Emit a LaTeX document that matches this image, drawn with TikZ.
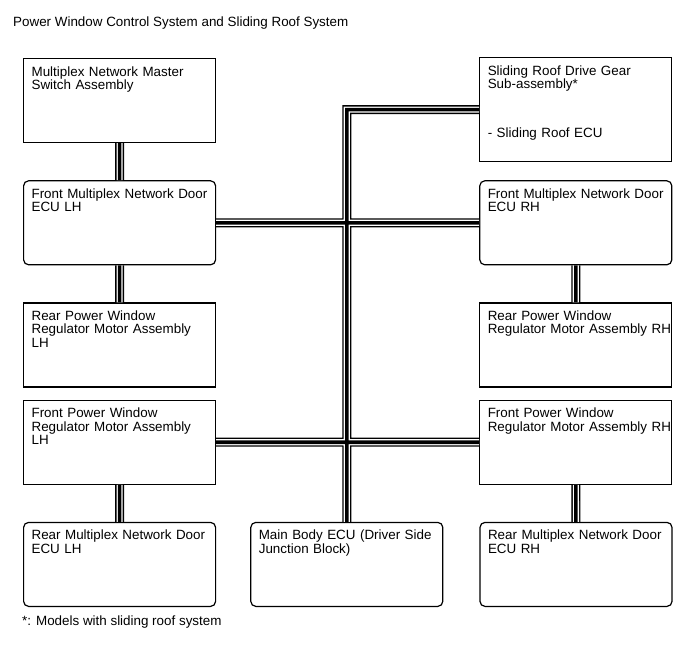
\documentclass[tikz,border=0pt]{standalone}
\usepackage{fontspec}
\setmainfont{Liberation Sans}
\usetikzlibrary{positioning}
\begin{document}
\begin{tikzpicture}[x=1pt, y=-1pt, font=\fontsize{13.4}{13.3}\selectfont]
  \tikzstyle{unit}=[draw, line width=1.2pt, text width=176pt, align=left, inner xsep=8pt, inner ysep=0pt, text height=17.5pt, text depth=66.5pt]
  \tikzstyle{ecu}=[unit, rounded corners=5pt]
  \tikzstyle{caption}=[anchor=base west, inner sep=0pt]
  \useasboundingbox (0,0) rectangle (689,659);

  \node[caption] (title) at (13,26) {Power Window Control System and Sliding Roof System};

  \node[unit, anchor=north west] (msw) at (23,58) {Multiplex Network Master\\Switch Assembly};
  \node[ecu, below=37pt of msw] (fdl) {Front Multiplex Network Door\\ECU LH};
  \node[unit, below=37pt of fdl] (rpl) {Rear Power Window\\Regulator Motor Assembly\\LH};
  \node[unit, below=12pt of rpl] (fpl) {Front Power Window\\Regulator Motor Assembly\\LH};
  \node[ecu, below=37pt of fpl] (rdl) {Rear Multiplex Network Door\\ECU LH};

  \node[ecu, right=263pt of fdl] (fdr) {Front Multiplex Network Door\\ECU RH};
  \node[unit, text depth=86.5pt, above=18pt of fdr] (sr) {Sliding Roof Drive Gear\\Sub-assembly*\\[35.7pt]- Sliding Roof ECU};
  \node[unit, right=263pt of rpl] (rpr) {Rear Power Window\\\mbox{Regulator Motor Assembly RH}};
  \node[unit, right=263pt of fpl] (fpr) {Front Power Window\\\mbox{Regulator Motor Assembly RH}};
  \node[ecu, right=34pt of rdl] (mb) {Main Body ECU (Driver Side\\Junction Block)};
  \node[ecu, right=36pt of mb] (rdr) {Rear Multiplex Network Door\\ECU RH};

  \node[caption] (note) at (22,625) {*: Models with sliding roof system};

  \foreach \w/\c in {9/black, 6.2/white, 3.6/black}{
    \draw[line width=\w pt, \c] (msw) -- (fdl) (fdl) -- (rpl) (fpl) -- (rdl)
      (fdr) -- (rpr) (fpr) -- (rdr) (fdl) -- (fdr) (fpl) -- (fpr)
      (mb.north) -- (mb.north |- sr.west) -- (sr.west);
  }
\end{tikzpicture}
\end{document}
